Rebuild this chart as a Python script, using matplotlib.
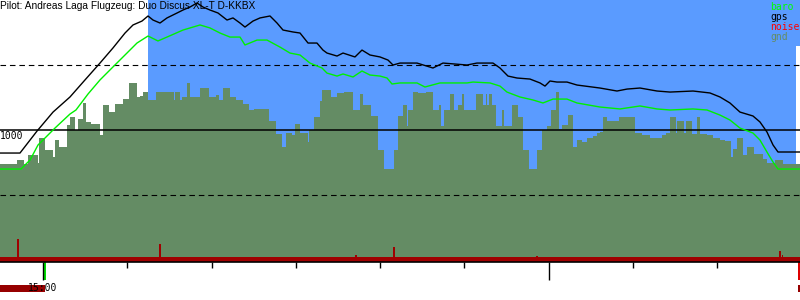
import matplotlib
matplotlib.use('Agg')
import matplotlib.pyplot as plt
from matplotlib.patches import Rectangle

# time in minutes after 15:00, altitude in metres
gps_t = [-5.10, -2.73, -0.71, 1.19, 3.20, 4.98, 6.76, 8.30, 9.73, 10.68, 11.74, 12.46,
         13.05, 13.88, 14.71, 15.90, 16.61, 17.44, 18.27, 18.98, 19.81, 20.76, 21.83,
         22.54, 23.37, 23.96, 24.91, 25.74, 26.93, 27.76, 28.47, 29.66, 30.49, 31.44,
         32.50, 33.21, 33.69, 34.88, 35.59, 37.01, 37.84, 38.79, 39.98, 40.93, 41.52,
         42.35, 44.37, 46.26, 47.45, 50.30, 51.48, 53.38, 54.21, 55.16, 56.23, 57.77,
         58.96, 59.55, 60.14, 60.97, 62.16, 63.35, 66.07, 68.09, 69.28, 70.82, 72.84,
         74.38, 77.11, 79.12, 80.31, 81.49, 82.68, 84.22, 85.05, 85.88, 86.60, 87.19, 89.80]
gps_alt = [823, 823, 992, 1138, 1254, 1385, 1515, 1631, 1746, 1808, 1838, 1877,
           1846, 1823, 1862, 1900, 1923, 1946, 1977, 1946, 1923, 1900, 1846,
           1862, 1823, 1792, 1838, 1862, 1877, 1823, 1769, 1754, 1746, 1669,
           1669, 1615, 1592, 1569, 1592, 1562, 1615, 1577, 1562, 1538, 1500,
           1515, 1515, 1477, 1515, 1500, 1515, 1515, 1477, 1415, 1400, 1392,
           1362, 1338, 1377, 1369, 1369, 1346, 1323, 1300, 1315, 1323, 1300,
           1292, 1300, 1285, 1254, 1208, 1138, 1108, 1062, 985, 885, 831, 831]

baro_t = [-5.10, -2.61, -1.54, -0.59, 1.42, 3.20, 3.91, 5.34, 6.76, 8.30, 9.96, 11.15,
          12.46, 13.64, 14.71, 16.61, 18.63, 19.81, 21.00, 22.18, 23.37, 23.96, 25.39,
          26.57, 28.11, 29.30, 30.49, 31.67, 33.10, 33.69, 34.88, 35.59, 36.77, 37.84,
          38.79, 39.98, 40.81, 41.40, 42.35, 44.37, 45.31, 47.09, 50.30, 51.01, 53.03,
          54.21, 55.04, 56.58, 58.13, 59.31, 60.50, 62.16, 63.35, 66.07, 68.45, 70.82,
          72.84, 74.38, 77.11, 78.77, 80.31, 81.49, 82.68, 84.22, 85.05, 85.88, 86.60,
          87.19, 89.80]
baro_alt = [700, 700, 769, 885, 1015, 1123, 1154, 1277, 1385, 1485, 1592, 1669,
            1723, 1685, 1715, 1769, 1808, 1785, 1746, 1715, 1715, 1654, 1692,
            1692, 1638, 1592, 1577, 1515, 1477, 1438, 1415, 1431, 1408, 1454,
            1423, 1415, 1400, 1354, 1362, 1362, 1331, 1362, 1362, 1369, 1362,
            1338, 1292, 1254, 1231, 1208, 1238, 1238, 1208, 1177, 1162, 1185,
            1162, 1154, 1162, 1154, 1115, 1077, 1015, 977, 923, 831, 754,
            700, 700]

gnd_edges = [-5.10, -3.08, -2.25, -1.78, -0.59, -0.47, 0.24, 1.19, 1.42, 1.90, 2.85, 3.20,
             3.80, 4.15, 4.74, 5.10, 5.69, 6.76, 7.12, 7.83, 8.54, 9.49, 10.20, 11.15,
             11.50, 11.86, 12.46, 13.40, 15.54, 15.66, 16.25, 16.49, 17.08, 17.44, 18.63,
             19.69, 20.52, 20.88, 21.35, 22.18, 22.89, 23.72, 24.44, 25.03, 26.81, 27.64,
             28.35, 28.82, 29.54, 29.89, 30.49, 31.44, 31.55, 32.15, 32.86, 33.10, 34.16,
             34.88, 35.71, 36.78, 37.60, 37.96, 38.91, 39.74, 40.45, 41.64, 42.11, 42.70,
             43.18, 43.30, 43.89, 44.48, 45.43, 46.26, 46.97, 47.21, 47.57, 48.28, 48.75,
             49.23, 49.70, 49.94, 51.36, 52.19, 52.55, 52.67, 52.91, 53.26, 53.74, 54.45,
             54.69, 55.63, 56.35, 56.94, 57.65, 58.60, 59.19, 59.79, 60.26, 60.85, 61.21,
             61.57, 62.28, 62.87, 63.35, 63.94, 64.53, 65.24, 65.72, 66.07, 66.43, 66.90,
             68.33, 70.23, 71.06, 72.01, 73.43, 73.90, 74.38, 75.09, 75.21, 76.04, 76.27,
             76.99, 77.58, 77.94, 78.77, 79.48, 80.31, 80.90, 81.61, 81.85, 82.33, 83.04,
             83.51, 84.34, 85.41, 85.88, 86.83, 87.78, 89.80]
gnd_alt = [738, 769, 738, 808, 746, 938, 846, 792, 923, 869, 1038, 1100,
           1000, 1085, 1208, 1062, 1046, 962, 1192, 1138, 1200, 1238, 1362, 1254,
           1262, 1292, 1231, 1292, 1231, 1292, 1231, 1254, 1362, 1254, 1323,
           1254, 1269, 1231, 1323, 1254, 1231, 1200, 1154, 1162, 1069, 969,
           869, 977, 962, 1046, 977, 908, 1000, 1100, 1223, 1308, 1254,
           1285, 1292, 1154, 1277, 1192, 1108, 846, 700, 846, 1108, 1192,
           1031, 1154, 1292, 1285, 1292, 1154, 1192, 1031, 1154, 1277, 1154,
           1192, 1277, 1154, 1277, 1192, 1277, 1192, 1277, 1192, 1031, 1154,
           1031, 1192, 1100, 846, 700, 846, 1000, 1031, 1154, 1292, 1008,
           1038, 1115, 869, 923, 908, 938, 954, 977, 985, 1100, 1069,
           1100, 977, 962, 938, 962, 977, 1100, 977, 1069, 977, 1069,
           969, 1100, 969, 962, 938, 923, 915, 792, 854, 938, 808,
           869, 815, 777, 746, 769, 738]

noise_base = 25
spike_t = [-2.97, 13.88, 37.13, 41.64, 58.60, 87.43, 87.72]
spike_alt = [162, 123, 38, 100, 33, 69, 38]

task_start, task_end = 12.46, 89.32
tow_start, tow_end = -5.10, 0.24
release_t = 0.08
landing_t = 89.52
t_min, t_max = -5.10, 89.80
hour_ticks = [0, 60]
hour_labels = ['15:00', '']
minor_ticks = [10, 20, 30, 40, 50, 70, 80]

blue = '#5a9bff'
gnd_col = '#648c64'
noise_col = '#a00000'
baro_col = '#00f000'
mono = 'DejaVu Sans Mono'
bottom = -15

fig = plt.figure(figsize=(8, 3), dpi=100)
ax = fig.add_axes([0, 38 / 300, 1, 262 / 300])
ax2 = fig.add_axes([0, 0, 1, 38 / 300], sharex=ax)
ax.set_zorder(2)
ax2.set_zorder(1)

ax.set_xlim(t_min, t_max)
ax.set_ylim(bottom, 2000)
ax.axvspan(task_start, task_end, color=blue, lw=0, zorder=0)

ax.stairs(gnd_alt, gnd_edges, fill=True, baseline=bottom, color=gnd_col, zorder=1)
ax.fill_between([t_min, t_max], bottom, noise_base, color=noise_col, lw=0, zorder=2)
ax.bar(spike_t, [v - bottom for v in spike_alt], width=0.13, bottom=bottom,
       color=noise_col, lw=0, zorder=2)

ax.axhline(1000, color='black', lw=1.1, zorder=3)
for a in (500, 1500):
    ax.axhline(a, color='black', lw=0.8, ls=(0, (5, 3.5)), zorder=3)

ax.plot(gps_t, gps_alt, color='black', lw=1.0, zorder=4)
ax.plot(baro_t, baro_alt, color=baro_col, lw=1.0, zorder=4)

ax.text(t_min + 0.02, 992, '1000', va='top', ha='left', family=mono, fontsize=7)

# legend box
ax.add_patch(Rectangle((0.957, 0.823), 0.043, 0.177, transform=ax.transAxes,
                       color=blue, lw=0, zorder=5))
for i, (name, col) in enumerate([('baro', '#00ff00'), ('gps', 'black'),
                                 ('noise', '#ff0000'), ('gnd', gnd_col)]):
    ax.text(0.9625, 1 - (7 + 10 * i) / 262, name, transform=ax.transAxes,
            color=col, family=mono, fontsize=7, va='center', ha='left', zorder=6)

for s in ('left', 'right', 'top'):
    ax.spines[s].set_visible(False)
ax.spines['bottom'].set_linewidth(1.2)
ax.set_yticks([])
ax.set_xticks(hour_ticks)
ax.set_xticklabels(hour_labels, family=mono, fontsize=7)
ax.set_xticks(minor_ticks, minor=True)
ax.tick_params(axis='x', which='major', length=13, width=1, pad=2)
ax.tick_params(axis='x', which='minor', length=4.5, width=1)

# tow / release / landing strip
ax2.set_ylim(38, 0)
ax2.axis('off')
ax2.bar(tow_start, 7, width=tow_end - tow_start, bottom=23, align='edge',
        color='#960000', lw=0)
ax2.bar(release_t, 18, width=0.31, bottom=0, align='edge', color='#00dd00', lw=0)
ax2.bar(landing_t, 18, width=0.3, bottom=0, align='edge', color='#dd0000', lw=0)
ax2.bar(landing_t, 7, width=0.3, bottom=23, align='edge', color='#960000', lw=0)

fig.text(0.0, 1 - 1 / 300, 'Pilot: Andreas Laga Flugzeug: Duo Discus XL-T D-KKBX',
         family='Liberation Sans', fontsize=7.3, va='top', ha='left', zorder=10)

fig.savefig('out.png', dpi=100)
